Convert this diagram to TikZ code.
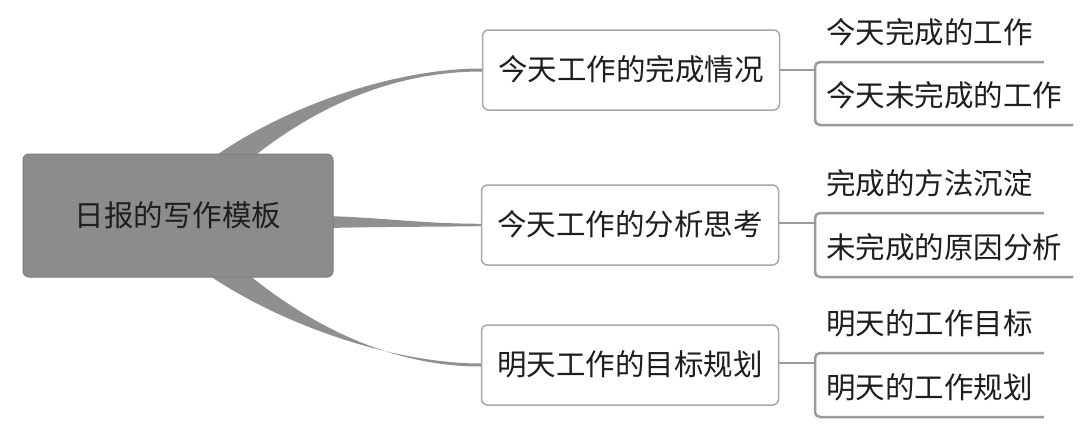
\documentclass[tikz,border=0pt]{standalone}
\usepackage{fontspec}
\newfontfamily\cjk{Noto Sans CJK SC}
\usetikzlibrary{calc}
\definecolor{rootfill}{HTML}{8C8C8C}
\definecolor{rootline}{HTML}{7E7E7E}
\definecolor{ribbon}{HTML}{8F8F8F}
\definecolor{midline}{HTML}{A8A8A8}
\definecolor{leafline}{HTML}{9A9A9A}
\definecolor{txt}{HTML}{1E1E1E}
\begin{document}
\begin{tikzpicture}[x=1pt,y=-1pt,
  every node/.style={font=\cjk\fontsize{29.5}{34}\selectfont, text=txt, text height=24pt, text depth=3pt},
  rootbox/.style={draw=rootline, line width=1pt, fill=rootfill, rounded corners=6pt, minimum width=310pt, minimum height=123pt, inner sep=0pt},
  midbox/.style={draw=midline, line width=1.5pt, fill=white, rounded corners=6pt, minimum width=297pt, minimum height=80pt, inner sep=0pt},
  leafbox/.style={anchor=south west, minimum height=58pt, inner xsep=11pt, inner ysep=0pt},
  ribbonfill/.style={fill=ribbon, draw=none},
  leafrule/.style={draw=leafline, line width=2.5pt, rounded corners=5pt},
  stem/.style={draw=leafline, line width=2.5pt}
]
\useasboundingbox (0,0) rectangle (1080,431);
\fill[white] (0,0) rectangle (1080,431);

% nodes (placed first for anchors; drawn later on top of ribbons via layers order)
\path (178,215.5) node[rootbox, draw=none, fill=none] (root) {};
\path (631,70) node[midbox, draw=none, fill=none] (n1) {};
\path (630,225) node[midbox, draw=none, fill=none] (n2) {};
\path (630,365) node[midbox, draw=none, fill=none] (n3) {};

% ribbons
\path[ribbonfill] ($(root.north)+(27,10)$) .. controls ($(root.north)+(100,-45)$) and ($(n1.west)+(-90,-1.5)$) .. ($(n1.west)+(0,-1.5)$)
  -- ($(n1.west)+(0,1.5)$) .. controls ($(n1.west)+(-85,1.5)$) and ($(root.north)+(140,-50)$) .. ($(root.north)+(67,10)$) -- cycle;
\path[ribbonfill] ($(root.east)+(-5,0.5)$) .. controls ($(root.east)+(60,3)$) and ($(n2.west)+(-60,-1.5)$) .. ($(n2.west)+(0,-1.2)$)
  -- ($(n2.west)+(0,1.2)$) .. controls ($(n2.west)+(-60,2)$) and ($(root.east)+(60,11)$) .. ($(root.east)+(-5,12.5)$) -- cycle;
\path[ribbonfill] ($(root.south)+(20,-10)$) .. controls ($(root.south)+(95,45)$) and ($(n3.west)+(-90,-1.5)$) .. ($(n3.west)+(0,-1.5)$)
  -- ($(n3.west)+(0,1.5)$) .. controls ($(n3.west)+(-85,1.5)$) and ($(root.south)+(135,52)$) .. ($(root.south)+(62,-10)$) -- cycle;

% visible nodes
\node[rootbox] (root) at (178,215.5) {日报的写作模板};
\node[midbox] (n1) at (631,70) {今天工作的完成情况};
\node[midbox] (n2) at (630,225) {今天工作的分析思考};
\node[midbox] (n3) at (630,365) {明天工作的目标规划};

% leaves
\node[leafbox] (l1) at (815,62) {今天完成的工作};
\node[leafbox] (l2) at (815,125) {今天未完成的工作};
\node[leafbox] (l3) at (815,213) {完成的方法沉淀};
\node[leafbox] (l4) at (815,277) {未完成的原因分析};
\node[leafbox] (l5) at (815,353) {明天的工作目标};
\node[leafbox] (l6) at (815,417) {明天的工作规划};

% leaf rules and stems
\draw[leafrule] (l1.south east) -- (l1.south west) -- (l2.south west) -- (l2.south east);
\draw[leafrule] (l3.south east) -- (l3.south west) -- (l4.south west) -- (l4.south east);
\draw[leafrule] (l5.south east) -- (l5.south west) -- (l6.south west) -- (l6.south east);
\draw[stem] (n1.east) -- (n1.east -| l1.south west);
\draw[stem] ($(n2.east)+(0,-2)$) -- ($(n2.east -| l3.south west)+(0,-2)$);
\draw[stem] ($(n3.east)+(0,-2)$) -- ($(n3.east -| l5.south west)+(0,-2)$);
\end{tikzpicture}
\end{document}
